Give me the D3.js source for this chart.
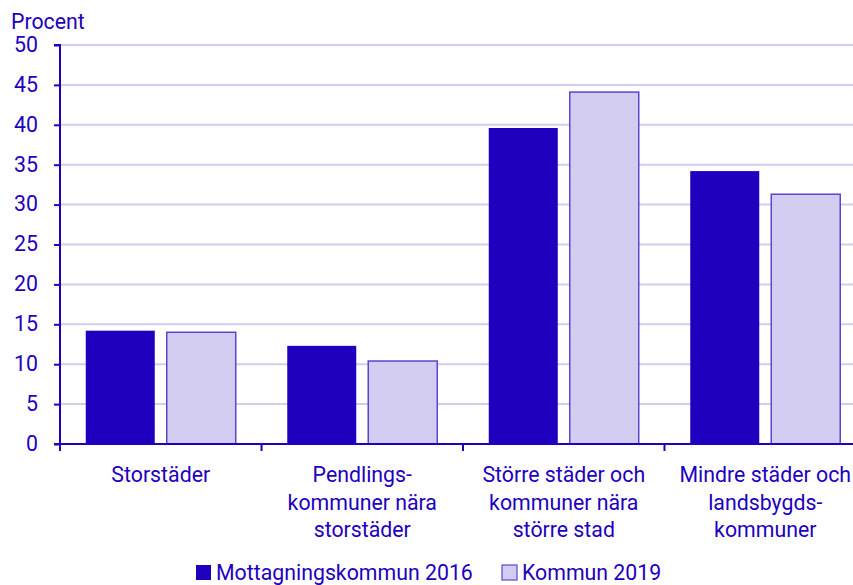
<!DOCTYPE html>
<html>
<head>
<meta charset="utf-8">
<script src="https://cdn.jsdelivr.net/npm/d3@7"></script>
<style>
  body { margin: 0; background: #fff; }
  svg text { font-family: Roboto, "Noto Sans", sans-serif; fill: #1e00be; }
</style>
</head>
<body>
<div id="chart"></div>
<script>
var categories = [
    ['Storstäder'],
    ['Pendlings-', 'kommuner nära', 'storstäder'],
    ['Större städer och', 'kommuner nära', 'större stad'],
    ['Mindre städer och', 'landsbygds-', 'kommuner']
];
var series_names = ['Mottagningskommun 2016', 'Kommun 2019'];
var values_2016 = [14.2, 12.3, 39.6, 34.2];
var values_2019 = [14.0, 10.4, 44.1, 31.3];
var y_ticks = [0, 5, 10, 15, 20, 25, 30, 35, 40, 45, 50];

var width = 853, height = 585;
var margin = {top: 45, bottom: 141, left: 60};
var plot_right = 866; // last group runs a bit past the edge
var dark = '#1e00be', light = '#d2cdf0', light_stroke = '#5a46cc';
var font_size = 21.3;

var svg = d3.select('#chart').append('svg')
    .attr('width', width)
    .attr('height', height);

var x = d3.scaleBand()
    .domain(d3.range(categories.length))
    .range([margin.left, plot_right]);

var x_inner = d3.scaleBand()
    .domain([0, 1])
    .range([0, x.bandwidth()])
    .paddingInner(0.148)
    .paddingOuter(0.318);

var y = d3.scaleLinear()
    .domain([0, 50])
    .range([height - margin.bottom, margin.top]);

// grid lines
svg.append('g').selectAll('line').data(y_ticks.slice(1))
    .enter().append('line')
    .attr('x1', margin.left)
    .attr('x2', width)
    .attr('y1', function(d){ return y(d); })
    .attr('y2', function(d){ return y(d); })
    .attr('stroke', light)
    .attr('stroke-width', 2);

// bars
var data = [];
categories.forEach(function(c, i){
    data.push({cat: i, s: 0, v: values_2016[i]});
    data.push({cat: i, s: 1, v: values_2019[i]});
});

svg.append('g').selectAll('rect').data(data)
    .enter().append('rect')
    .attr('x', function(d){ return x(d.cat) + x_inner(d.s); })
    .attr('y', function(d){ return y(d.v); })
    .attr('width', x_inner.bandwidth())
    .attr('height', function(d){ return y(0) - y(d.v); })
    .attr('fill', function(d){ return d.s == 0 ? dark : light; })
    .attr('stroke', function(d){ return d.s == 0 ? 'none' : light_stroke; })
    .attr('stroke-width', 1.5);

// y axis
var y_axis = svg.append('g')
    .attr('transform', 'translate(' + margin.left + ',0)')
    .call(d3.axisLeft(y).tickValues(y_ticks).tickSize(6).tickPadding(16));
y_axis.selectAll('line').attr('stroke', dark).attr('stroke-width', 2);
y_axis.select('.domain').attr('stroke', dark).attr('stroke-width', 2)
    .attr('d', 'M-6,' + y(50) + 'H0V' + y(0));
y_axis.selectAll('text').attr('font-size', font_size).attr('fill', dark)
    .attr('dy', '0.3em');

// x axis line and group ticks
svg.append('line')
    .attr('x1', margin.left - 6).attr('x2', width)
    .attr('y1', y(0)).attr('y2', y(0))
    .attr('stroke', dark).attr('stroke-width', 2);

svg.append('g').selectAll('line').data(d3.range(categories.length))
    .enter().append('line')
    .attr('x1', function(d){ return x(d); })
    .attr('x2', function(d){ return x(d); })
    .attr('y1', y(0))
    .attr('y2', y(0) + 7)
    .attr('stroke', dark).attr('stroke-width', 2);

// category labels
var labels = svg.append('g').selectAll('text').data(categories)
    .enter().append('text')
    .attr('text-anchor', 'middle')
    .attr('font-size', font_size)
    .attr('transform', function(d, i){
        return 'translate(' + (x(i) + x.bandwidth() / 2) + ',' + (y(0) + 38) + ')';
    });
labels.selectAll('tspan').data(function(d){ return d; })
    .enter().append('tspan')
    .attr('x', 0)
    .attr('dy', function(d, i){ return i == 0 ? 0 : 27.5; })
    .text(function(d){ return d; });

// axis title
svg.append('text')
    .attr('x', 11).attr('y', 29)
    .attr('font-size', font_size)
    .text('Procent');

// legend
var legend_items = [
    {name: series_names[0], fill: dark, stroke: 'none', x: 196},
    {name: series_names[1], fill: light, stroke: light_stroke, x: 502}
];
var legend = svg.append('g').selectAll('g').data(legend_items)
    .enter().append('g')
    .attr('transform', function(d){ return 'translate(' + d.x + ',565)'; });
legend.append('rect')
    .attr('width', 15).attr('height', 15)
    .attr('fill', function(d){ return d.fill; })
    .attr('stroke', function(d){ return d.stroke; })
    .attr('stroke-width', 1.2);
legend.append('text')
    .attr('x', 20).attr('y', 15)
    .attr('font-size', font_size)
    .text(function(d){ return d.name; });
</script>
</body>
</html>
